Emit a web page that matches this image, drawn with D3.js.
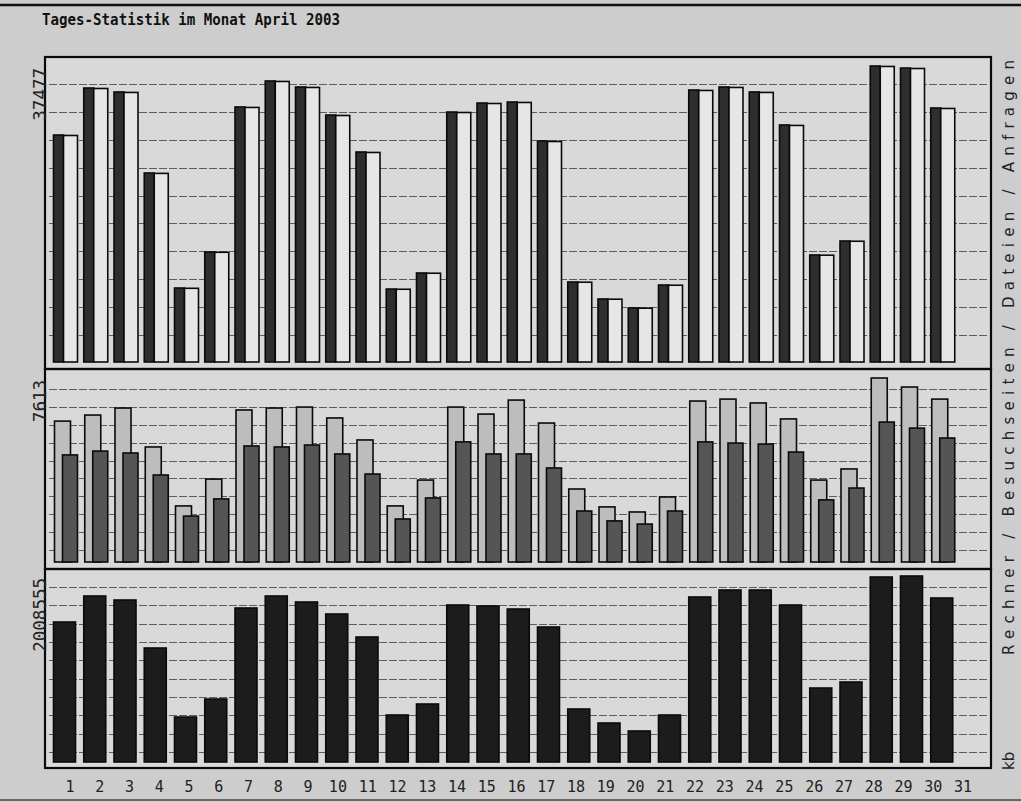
<!DOCTYPE html>
<html><head><meta charset="utf-8">
<script src="https://cdn.jsdelivr.net/npm/d3@7"></script>
<style>body{margin:0;background:#cdcdcd;}svg{display:block}</style>
</head><body>
<svg id="chart" width="1021" height="802"></svg>
<script>
// ---- data ----
const title = "Tages-Statistik im Monat April 2003";
const days = [1,2,3,4,5,6,7,8,9,10,11,12,13,14,15,16,17,18,19,20,21,22,23,24,25,26,27,28,29,30,31];
const hits   = [28740,34690,34190,23930,9370,13930,32290,35580,34820,31270,26590,9240,11270,31650,32790,32920,27980,10130,7980,6840,9750,34440,34820,34190,30010,13550,15320,37477,37220,32160,0];
const files  = [28680,34630,34130,23880,9330,13890,32230,35520,34760,31210,26530,9210,11240,31590,32730,32860,27920,10100,7950,6810,9720,34380,34760,34130,29950,13520,15290,37420,37160,32100,0];
const visits = [5830,6080,6370,4760,2320,3430,6290,6370,6410,5960,5050,2320,3390,6410,6120,6700,5750,3020,2280,2070,2690,6660,6740,6580,5920,3390,3850,7613,7240,6740,0];
const sites  = [4430,4590,4510,3600,1900,2610,4800,4760,4840,4470,3640,1780,2650,4970,4470,4470,3890,2110,1700,1570,2110,4970,4920,4880,4550,2570,3060,5790,5540,5130,0];
const kbytes = [1511800,1792600,1749400,1231100,485900,680300,1663000,1792600,1727800,1598200,1349800,507500,626300,1695400,1684600,1652200,1457800,572300,421100,334800,507500,1781800,1857400,1857400,1695400,799100,863900,1997800,2008555,1771000,0];
const maxLabels = ["37477","7613","2008555"];
const rightLabel = "Rechner / Besuchseiten / Dateien / Anfragen";
const bottomRightLabel = "kb";

// ---- drawing ----
const svg = d3.select("#chart");
const W = 1021, H = 802;
const mono = "'DejaVu Sans Mono', 'Liberation Mono', monospace";

svg.append("rect").attr("width", W).attr("height", H).attr("fill", "#cdcdcd");
svg.append("line").attr("x1",0).attr("x2",W).attr("y1",5).attr("y2",5).attr("stroke","#111").attr("stroke-width",2.5);
svg.append("line").attr("x1",0).attr("x2",W).attr("y1",800).attr("y2",800).attr("stroke","#444").attr("stroke-width",1.5);

svg.append("text").attr("x", 42).attr("y", 25)
  .attr("font-family", mono).attr("font-weight","bold").attr("font-size", 15)
  .attr("textLength", 298).attr("lengthAdjust","spacingAndGlyphs")
  .attr("fill","#111").text(title);

const left = 45, right = 991;
const panels = [
  {top:57, bottom:369, base:362, max:37477, peak:66, grid:[84,112,140,168,196,224,252,280,307,335]},
  {top:369, bottom:569, base:562, max:7613, peak:378, grid:[389,407,425,443,461,479,497,514,532,550]},
  {top:569, bottom:768, base:762, max:2008555, peak:576, grid:[587,605,623,641,659,677,696,715,733,752]}
];

// panel backgrounds
panels.forEach(p => {
  svg.append("rect").attr("x", left).attr("y", p.top).attr("width", right-left).attr("height", p.bottom-p.top)
    .attr("fill", "#d9d9d9");
});

// gridlines via scale of grid index
panels.forEach(p => {
  const gy = d3.scaleLinear().domain([0, p.grid.length-1]).range([p.grid[0], p.grid[p.grid.length-1]]);
  svg.append("g").selectAll("line").data(d3.range(p.grid.length)).join("line")
    .attr("x1", left+4).attr("x2", right-4)
    .attr("y1", i => Math.round(gy(i))+0.5).attr("y2", i => Math.round(gy(i))+0.5)
    .attr("stroke", "#5e5e5e").attr("stroke-width", 1).attr("stroke-dasharray","8,2");
});

const x = d3.scaleBand().domain(days).range([50, 50 + 31*30.25]).padding(0);
const xl = d3.scalePoint().domain(days).range([70, 963]);
const ys = panels.map(p => d3.scaleLinear().domain([0, p.max]).range([p.base, p.peak]));

function bars(data, yScale, off, w, fill, base) {
  svg.append("g").selectAll("rect").data(days.map((d,i)=>({d, v:data[i]})).filter(o=>o.v>0)).join("rect")
    .attr("x", o => x(o.d) + off).attr("width", w)
    .attr("y", o => yScale(o.v)).attr("height", o => base - yScale(o.v))
    .attr("fill", fill).attr("stroke", "#0a0a0a").attr("stroke-width", 1.6);
}
// top panel: hits (dark) + files (light)
bars(hits, ys[0], 3.5, 10, "#2e2e2e", panels[0].base);
bars(files, ys[0], 13.5, 14, "#e6e6e6", panels[0].base);
// middle panel: visits (light, tall) + sites (dark)
bars(visits, ys[1], 4.5, 16, "#bdbdbd", panels[1].base);
bars(sites, ys[1], 12.5, 15, "#555555", panels[1].base);
// bottom panel: kbytes
bars(kbytes, ys[2], 3.5, 22, "#1c1c1c", panels[2].base);

// panel borders
panels.forEach(p => {
  svg.append("rect").attr("x", left).attr("y", p.top).attr("width", right-left).attr("height", p.bottom-p.top)
    .attr("fill", "none").attr("stroke", "#0a0a0a").attr("stroke-width", 2.2);
});

// max labels (rotated)
panels.forEach((p,i) => {
  svg.append("text").attr("transform", `translate(46,${p.peak+2}) rotate(-90)`)
    .attr("text-anchor","end").attr("font-family", mono).attr("font-size", 17.5)
    .attr("fill","#222").text(maxLabels[i]);
});

// day labels
svg.append("g").selectAll("text").data(days).join("text")
  .attr("x", d => xl(d)).attr("y", 792).attr("text-anchor","middle")
  .attr("font-family", mono).attr("font-size", 15).attr("fill","#222")
  .text(d => d);

// right labels
svg.append("text").attr("transform", "translate(1014,655) rotate(-90)")
  .attr("font-family", "'DejaVu Sans', sans-serif").attr("font-size", 15).attr("fill","#222")
  .attr("textLength", 595).attr("lengthAdjust","spacing")
  .text(rightLabel);
svg.append("text").attr("transform", "translate(1014,770) rotate(-90)")
  .attr("font-family", "'DejaVu Sans', sans-serif").attr("font-size", 15).attr("fill","#222")
  .text(bottomRightLabel);
</script>
</body></html>
